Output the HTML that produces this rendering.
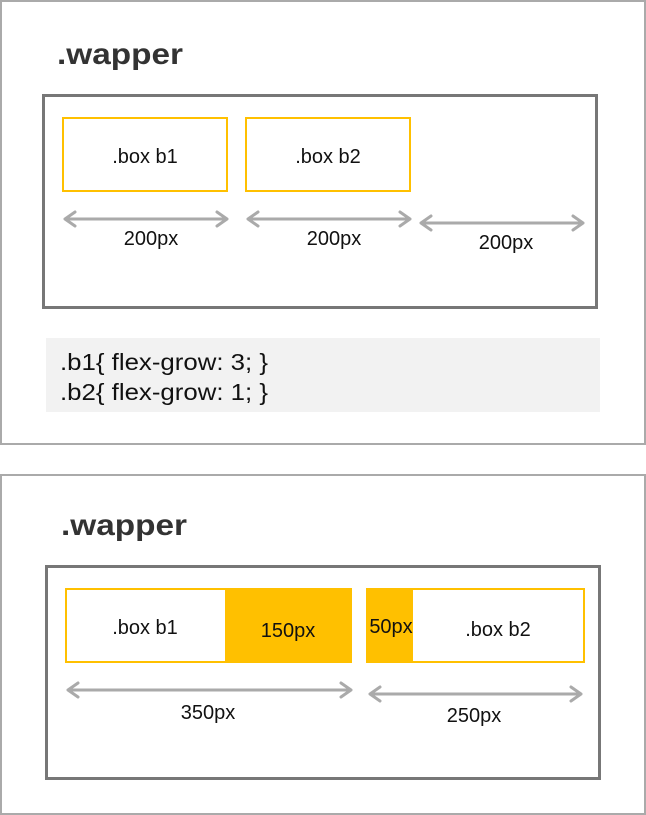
<!DOCTYPE html>
<html><head><meta charset="utf-8"><style>
body{margin:0;width:646px;height:815px;background:#fff;font-family:"Liberation Sans","Noto Sans CJK KR",sans-serif;}
svg{display:block}
</style></head><body>
<svg width="646" height="815">
<g font-family="Liberation Sans, Noto Sans CJK KR, sans-serif">
<rect x="1" y="1" width="644" height="443" fill="#fff" stroke="#aaa" stroke-width="2"/>
<text x="57" y="64" font-size="30" font-weight="bold" fill="#333" textLength="126" lengthAdjust="spacingAndGlyphs">.wapper</text>
<rect x="43.5" y="95.5" width="553" height="212" fill="none" stroke="#777" stroke-width="3"/>
<rect x="63" y="118" width="164" height="73" fill="#fff" stroke="#ffc000" stroke-width="2"/>
<text x="145" y="163" font-size="20" text-anchor="middle" fill="#111">.box b1</text>
<rect x="246" y="118" width="164" height="73" fill="#fff" stroke="#ffc000" stroke-width="2"/>
<text x="328" y="163" font-size="20" text-anchor="middle" fill="#111">.box b2</text>
<g stroke="#aaa" stroke-width="3" fill="none" stroke-linecap="round" stroke-linejoin="round">
<path d="M65 219H227M75 212L65 219L75 226M217 212L227 219L217 226"/>
<path d="M248 219H410M258 212L248 219L258 226M400 212L410 219L400 226"/>
<path d="M421 223H583M431 216L421 223L431 230M573 216L583 223L573 230"/>
</g>
<text x="151" y="245" font-size="20" text-anchor="middle" fill="#111">200px</text>
<text x="334" y="245" font-size="20" text-anchor="middle" fill="#111">200px</text>
<text x="506" y="249" font-size="20" text-anchor="middle" fill="#111">200px</text>
<rect x="46" y="338" width="554" height="74" fill="#f2f2f2"/>
<text x="60" y="370" font-size="23" fill="#111" textLength="208" lengthAdjust="spacingAndGlyphs">.b1{ flex-grow: 3; }</text>
<text x="60" y="400" font-size="23" fill="#111" textLength="208" lengthAdjust="spacingAndGlyphs">.b2{ flex-grow: 1; }</text>
<rect x="1" y="475" width="644" height="339" fill="#fff" stroke="#aaa" stroke-width="2"/>
<text x="61" y="535" font-size="30" font-weight="bold" fill="#333" textLength="126" lengthAdjust="spacingAndGlyphs">.wapper</text>
<rect x="46.5" y="566.5" width="553" height="212" fill="none" stroke="#777" stroke-width="3"/>
<rect x="66" y="589" width="285" height="73" fill="#fff" stroke="#ffc000" stroke-width="2"/>
<rect x="225" y="588" width="127" height="75" fill="#ffc000"/>
<text x="145" y="634" font-size="20" text-anchor="middle" fill="#111">.box b1</text>
<text x="288" y="637" font-size="20" text-anchor="middle" fill="#111">150px</text>
<rect x="367" y="589" width="217" height="73" fill="#fff" stroke="#ffc000" stroke-width="2"/>
<rect x="366" y="588" width="47" height="75" fill="#ffc000"/>
<text x="391" y="633" font-size="20" text-anchor="middle" fill="#111">50px</text>
<text x="498" y="636" font-size="20" text-anchor="middle" fill="#111">.box b2</text>
<g stroke="#aaa" stroke-width="3" fill="none" stroke-linecap="round" stroke-linejoin="round">
<path d="M68 690H351M78 683L68 690L78 697M341 683L351 690L341 697"/>
<path d="M370 694H581M380 687L370 694L380 701M571 687L581 694L571 701"/>
</g>
<text x="208" y="719" font-size="20" text-anchor="middle" fill="#111">350px</text>
<text x="474" y="722" font-size="20" text-anchor="middle" fill="#111">250px</text>
</g>
</svg>
</body></html>
